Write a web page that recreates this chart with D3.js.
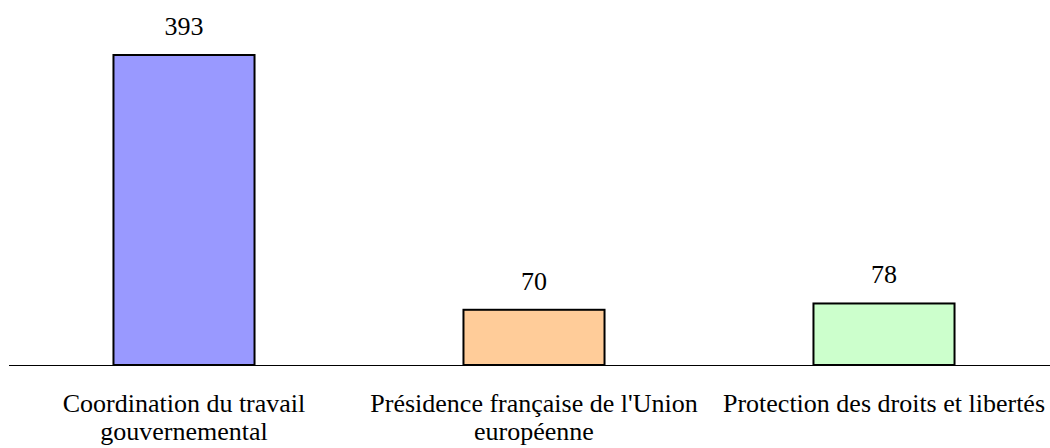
<!DOCTYPE html>
<html>
<head>
<meta charset="utf-8">
<script src="https://cdn.jsdelivr.net/npm/d3@7"></script>
<style>
  body { margin: 0; background: #fff; }
  svg { display: block; }
</style>
</head>
<body>
<svg id="chart"></svg>
<script>
const categories = ["Coordination du travail gouvernemental", "Présidence française de l'Union européenne", "Protection des droits et libertés"];
const values = [393, 70, 78];
const colors = ["#9999ff", "#ffcc99", "#ccffcc"];

const width = 1050, height = 448;
const base = 365;
const fontSize = 26;
const serif = "\"Liberation Serif\"";

const svg = d3.select("#chart")
    .attr("width", width)
    .attr("height", height);

const x = d3.scaleBand()
    .domain(categories)
    .range([9, 1059])
    .paddingInner(0.597)
    .paddingOuter(0.2985);

const y = d3.scaleLinear()
    .domain([0, 393])
    .range([base, 55]);

const data = categories.map((c, i) => ({cat: c, value: values[i], color: colors[i]}));

svg.selectAll("rect.bar")
  .data(data)
  .join("rect")
    .attr("class", "bar")
    .attr("x", d => x(d.cat))
    .attr("y", d => y(d.value))
    .attr("width", x.bandwidth())
    .attr("height", d => y(0) - y(d.value))
    .attr("fill", d => d.color)
    .attr("stroke", "#000")
    .attr("stroke-width", 2);

// axis line
svg.append("line")
    .attr("x1", 9).attr("x2", width)
    .attr("y1", y(0) + 0.5).attr("y2", y(0) + 0.5)
    .attr("stroke", "#000")
    .attr("stroke-width", 1);

svg.selectAll("text.val")
  .data(data)
  .join("text")
    .attr("class", "val")
    .style("font-family", serif)
    .attr("font-size", fontSize)
    .attr("x", d => x(d.cat) + x.bandwidth() / 2)
    .attr("y", d => y(d.value) - 20)
    .attr("text-anchor", "middle")
    .text(d => d.value);

// category labels, wrapped to the band step
const labels = svg.selectAll("text.cat")
  .data(data)
  .join("text")
    .attr("class", "cat")
    .style("font-family", serif)
    .attr("font-size", fontSize)
    .attr("text-anchor", "middle")
    .attr("x", d => x(d.cat) + x.bandwidth() / 2)
    .attr("y", 412);

labels.each(function(d) {
  const t = d3.select(this);
  const cx = x(d.cat) + x.bandwidth() / 2;
  const words = d.cat.split(/\s+/);
  const maxW = x.step();
  let line = [];
  let tspan = t.append("tspan").attr("x", cx).attr("dy", 0);
  for (const w of words) {
    line.push(w);
    tspan.text(line.join(" "));
    if (tspan.node().getComputedTextLength() > maxW && line.length > 1) {
      line.pop();
      tspan.text(line.join(" "));
      line = [w];
      tspan = t.append("tspan").attr("x", cx).attr("dy", 28).text(w);
    }
  }
});
</script>
</body>
</html>
